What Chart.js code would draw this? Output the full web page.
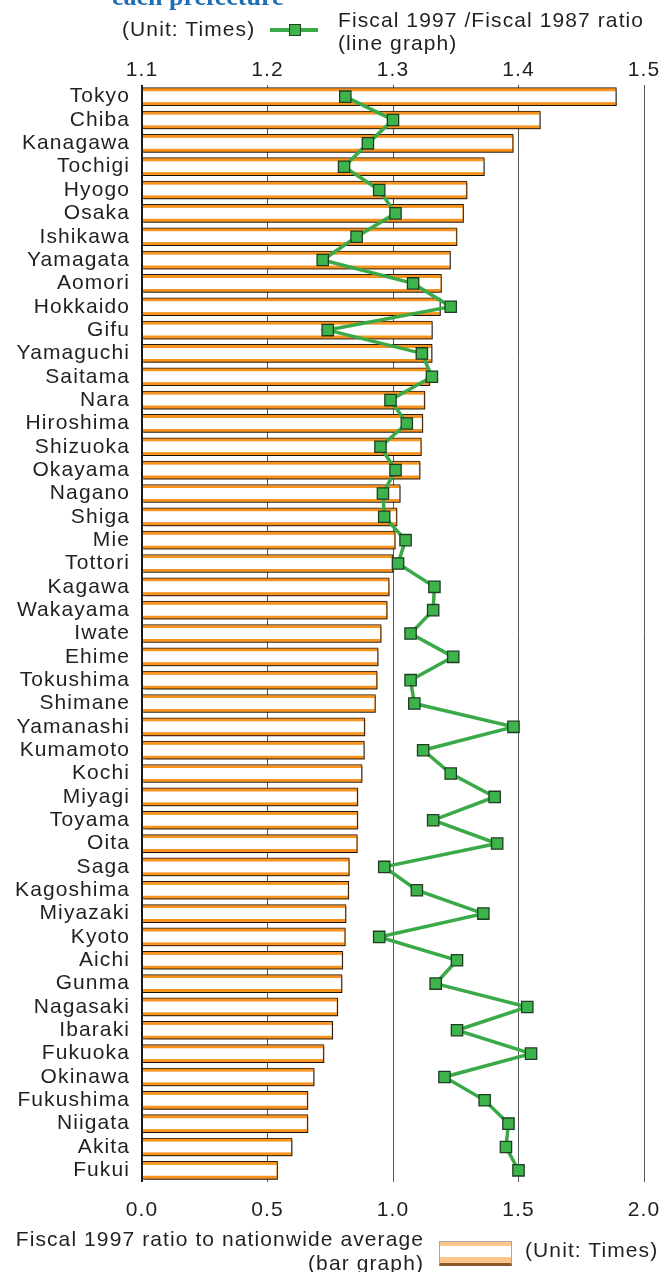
<!DOCTYPE html>
<html>
<head>
<meta charset="utf-8">
<script src="https://cdn.jsdelivr.net/npm/chart.js@4.4.1/dist/chart.umd.min.js"></script>
<style>
  html, body { margin: 0; padding: 0; background: #fff; }
  #wrap { position: relative; width: 662px; height: 1272px; overflow: hidden; }
  canvas { position: absolute; left: 0; top: 0; }
  .txt { position: absolute; font-family: 'Liberation Sans', Arial, sans-serif; font-size: 21px;
         line-height: 24px; letter-spacing: 1.1px; color: #231f20; white-space: nowrap; }
  #title { position: absolute; left: 112px; top: -16px; font-family: 'Liberation Serif', 'DejaVu Serif', serif;
           font-weight: bold; font-size: 26px; line-height: 26px; color: #1f6db5; white-space: nowrap; }
  #lgLine { position: absolute; left: 270px; top: 28px; width: 48px; height: 4px; background: #3aaa48; }
  #lgMark { position: absolute; left: 289px; top: 24px; width: 10px; height: 10px; background: #3cb44b;
            border: 1.3px solid #1f3d22; }
  #swatch { position: absolute; left: 439px; top: 1241px; width: 73px; height: 25px; box-sizing: border-box;
            border: 1px solid #a8a8a8; border-bottom: 3px solid #8b5a2b;
            background: linear-gradient(#fbc58a 0, #fbc58a 4px, #fff 4px, #fff 15px, #fbc58a 15px, #fbc58a 100%); }
</style>
</head>
<body>
<div id="wrap">
  <canvas id="chart" width="662" height="1272"></canvas>
  <div id="title">each prefecture</div>
  <div class="txt" style="left:122px; top:17px;">(Unit: Times)</div>
  <div id="lgLine"></div>
  <div id="lgMark"></div>
  <div class="txt" style="left:338px; top:8px; line-height:23px;">Fiscal 1997 /Fiscal 1987 ratio<br>(line graph)</div>
  <div class="txt" style="right:238px; top:1227px; line-height:23.5px; text-align:right;">Fiscal 1997 ratio to nationwide average<br>(bar graph)</div>
  <div id="swatch"></div>
  <div class="txt" style="left:525px; top:1238px;">(Unit: Times)</div>
</div>
<script>
// Prefectures, ordered as listed top to bottom
const prefectures = [
  'Tokyo', 'Chiba', 'Kanagawa', 'Tochigi', 'Hyogo', 'Osaka', 'Ishikawa', 'Yamagata',
  'Aomori', 'Hokkaido', 'Gifu', 'Yamaguchi', 'Saitama', 'Nara', 'Hiroshima', 'Shizuoka',
  'Okayama', 'Nagano', 'Shiga', 'Mie', 'Tottori', 'Kagawa', 'Wakayama', 'Iwate', 'Ehime',
  'Tokushima', 'Shimane', 'Yamanashi', 'Kumamoto', 'Kochi', 'Miyagi', 'Toyama', 'Oita',
  'Saga', 'Kagoshima', 'Miyazaki', 'Kyoto', 'Aichi', 'Gunma', 'Nagasaki', 'Ibaraki',
  'Fukuoka', 'Okinawa', 'Fukushima', 'Niigata', 'Akita', 'Fukui'
];

// Fiscal 1997 ratio to nationwide average (bars, bottom axis)
const ratioToNational = [
  1.890, 1.587, 1.479, 1.364, 1.295, 1.281, 1.255, 1.229,
  1.193, 1.189, 1.157, 1.156, 1.147, 1.127, 1.119, 1.113,
  1.108, 1.029, 1.016, 1.009, 1.000, 0.985, 0.977, 0.953, 0.941,
  0.937, 0.930, 0.888, 0.886, 0.877, 0.860, 0.860, 0.858,
  0.826, 0.824, 0.813, 0.810, 0.800, 0.797, 0.780, 0.760,
  0.725, 0.686, 0.661, 0.661, 0.598, 0.540
];

// Fiscal 1997 / Fiscal 1987 ratio (line, top axis)
const ratio97to87 = [
  1.262, 1.300, 1.280, 1.261, 1.289, 1.302, 1.271, 1.244,
  1.316, 1.346, 1.248, 1.323, 1.331, 1.298, 1.311, 1.290,
  1.302, 1.292, 1.293, 1.310, 1.304, 1.333, 1.332, 1.314, 1.348,
  1.314, 1.317, 1.396, 1.324, 1.346, 1.381, 1.332, 1.383,
  1.293, 1.319, 1.372, 1.289, 1.351, 1.334, 1.407, 1.351,
  1.410, 1.341, 1.373, 1.392, 1.390, 1.400
];

// Tick labels for both value axes
const barTicks = [0.0, 0.5, 1.0, 1.5, 2.0];
const lineTicks = [1.1, 1.2, 1.3, 1.4, 1.5];

const INK = '#231f20';
const LETTER_SPACING = '1.1px';
Chart.defaults.font.family = "'Liberation Sans', Arial, sans-serif";
Chart.defaults.font.size = 21;
Chart.defaults.color = INK;

// Slightly wide lettering for all canvas text
const spacingPlugin = {
  id: 'spacing',
  beforeInit(chart) { chart.ctx.letterSpacing = LETTER_SPACING; },
  beforeDraw(chart) { chart.ctx.letterSpacing = LETTER_SPACING; }
};

// Soft drop shadow under the outlined bars
const shadowPlugin = {
  id: 'barShadow',
  beforeDatasetDraw(chart, args) {
    if (args.index !== 0) return;
    const ctx = chart.ctx;
    ctx.save();
    ctx.shadowColor = 'rgba(0,0,0,0.35)';
    ctx.shadowOffsetX = 1.5;
    ctx.shadowOffsetY = 1.5;
    ctx.shadowBlur = 1;
  },
  afterDatasetDraw(chart, args) {
    if (args.index !== 0) return;
    chart.ctx.restore();
  }
};

const fixTicks = (values) => (scale) => {
  scale.ticks = values.map(v => ({ value: v }));
};

// value axes keep a fixed band height and no extra side padding
const fitValueAxis = (h) => (scale) => {
  scale.height = h;
  scale.paddingLeft = 0;
  scale.paddingRight = 0;
};

new Chart(document.getElementById('chart'), {
  type: 'bar',
  data: {
    labels: prefectures,
    datasets: [
      {
        // outer bar: dark outline with orange body
        data: ratioToNational,
        xAxisID: 'x', yAxisID: 'y',
        backgroundColor: '#f7931e',
        borderColor: '#2a1c10',
        borderWidth: 1,
        borderSkipped: 'start',
        barThickness: 18,
        grouped: false,
        order: 2
      },
      {
        // white core leaving orange stripes along the edges
        data: ratioToNational,
        xAxisID: 'x', yAxisID: 'y',
        backgroundColor: '#ffffff',
        borderColor: 'rgba(0,0,0,0)',
        borderWidth: { top: 0, bottom: 0, left: 0, right: 1.5 },
        borderSkipped: 'start',
        barThickness: 11,
        grouped: false,
        order: 1
      },
      {
        type: 'line',
        data: ratio97to87,
        indexAxis: 'y',
        xAxisID: 'x2', yAxisID: 'y',
        borderColor: '#3aaa48',
        borderWidth: 3.5,
        tension: 0,
        pointStyle: 'rect',
        pointRadius: 8,
        pointBackgroundColor: '#3cb44b',
        pointBorderColor: '#1f3d22',
        pointBorderWidth: 1.3,
        order: 0
      }
    ]
  },
  options: {
    indexAxis: 'y',
    responsive: false,
    animation: false,
    devicePixelRatio: 1,
    layout: { padding: { left: 0, right: 18, top: 0, bottom: 0 } },
    plugins: { legend: { display: false }, tooltip: { enabled: false } },
    scales: {
      y: {
        type: 'category',
        offset: true,
        grid: { display: false, drawTicks: false },
        border: { display: false },
        ticks: { padding: 12, color: INK, autoSkip: false },
        afterFit(scale) { scale.width = 142; scale.paddingTop = 0; scale.paddingBottom = 0; }
      },
      x: {
        type: 'linear',
        position: 'bottom',
        min: 0, max: 2,
        afterBuildTicks: fixTicks(barTicks),
        ticks: { padding: 16, color: INK, callback: v => Number(v).toFixed(1) },
        grid: {
          drawTicks: false,
          color: c => c.index === 0 ? '#1a1a1a' : '#555555',
          lineWidth: c => c.index === 0 ? 2 : 1
        },
        border: { display: false },
        afterFit: fitValueAxis(90)
      },
      x2: {
        type: 'linear',
        position: 'top',
        min: 1.1, max: 1.5,
        afterBuildTicks: fixTicks(lineTicks),
        ticks: { padding: 2, color: INK, callback: v => Number(v).toFixed(1) },
        grid: { display: false, drawTicks: false },
        border: { display: false },
        afterFit: fitValueAxis(85)
      }
    }
  },
  plugins: [spacingPlugin, shadowPlugin]
});
</script>
</body>
</html>
